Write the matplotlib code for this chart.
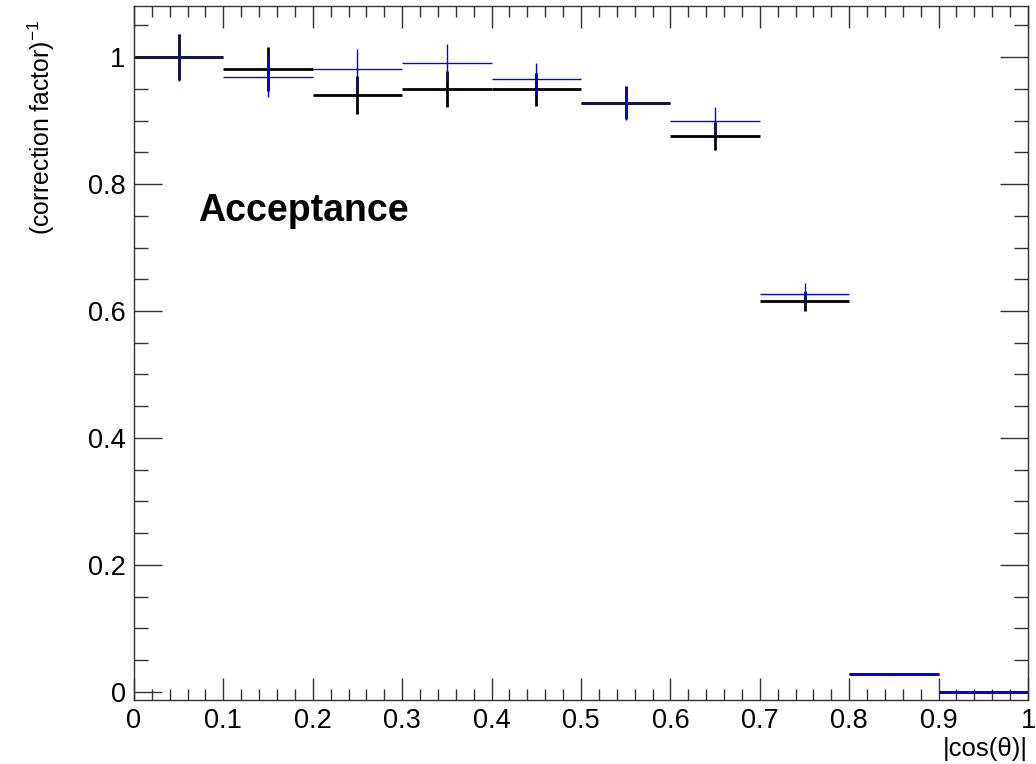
import matplotlib as mpl
mpl.use('Agg')
import matplotlib.pyplot as plt
from matplotlib.ticker import MultipleLocator
import numpy as np

# |cos(theta)| bins and the inverse correction factor in each
bin_edges = np.linspace(0.0, 1.0, 11)
acc_black = [1.0, 0.981, 0.940, 0.950, 0.949, 0.928, 0.875, 0.616, 0.028, 0.0]
err_black = [0.036, 0.034, 0.030, 0.028, 0.026, 0.026, 0.022, 0.016, 0.002, 0.0]
acc_blue = [1.0, 0.969, 0.981, 0.991, 0.965, 0.927, 0.899, 0.626, 0.028, 0.0]
err_blue = [0.037, 0.032, 0.031, 0.029, 0.026, 0.026, 0.022, 0.018, 0.002, 0.0]

plt.rcParams['font.family'] = ['Liberation Sans', 'DejaVu Sans']
plt.rcParams['mathtext.fontset'] = 'custom'
plt.rcParams['mathtext.rm'] = 'Liberation Sans'
plt.rcParams['mathtext.it'] = 'Liberation Sans:italic'

centers = 0.5 * (bin_edges[:-1] + bin_edges[1:])
half_w = 0.5 * np.diff(bin_edges)

fig = plt.figure(figsize=(10.36, 7.64), dpi=100, facecolor='white')
ax = fig.add_axes([0.1293, 0.0838, 0.8630, 0.9083])

ax.errorbar(centers, acc_black, xerr=half_w, yerr=err_black, fmt='none',
            ecolor='black', elinewidth=2.0, capsize=0)
ax.errorbar(centers, acc_blue, xerr=half_w, yerr=err_blue, fmt='none',
            ecolor='#0000ff', elinewidth=1.0, capsize=0)

ax.set_xlim(0, 1)
ax.set_ylim(-0.0126, 1.0803)

ax.xaxis.set_major_locator(MultipleLocator(0.1))
ax.xaxis.set_minor_locator(MultipleLocator(0.02))
ax.yaxis.set_major_locator(MultipleLocator(0.2))
ax.yaxis.set_minor_locator(MultipleLocator(0.05))
ax.xaxis.set_major_formatter(plt.FuncFormatter(lambda v, p: '%g' % round(v, 2)))
ax.yaxis.set_major_formatter(plt.FuncFormatter(lambda v, p: '%g' % round(v, 2)))

ax.tick_params(axis='both', which='both', direction='in', top=True, right=True,
               width=1.0, color='#333333', labelsize=19.5)
ax.tick_params(axis='x', which='major', length=16, pad=6)
ax.tick_params(axis='x', which='minor', length=8)
ax.tick_params(axis='y', which='major', length=20, pad=6)
ax.tick_params(axis='y', which='minor', length=10)
for s in ax.spines.values():
    s.set_linewidth(1.0)
    s.set_color('#333333')

ax.set_ylabel(r'(correction factor)$^{-1}$', fontsize=17.8, loc='top')
ax.yaxis.set_label_coords(-0.086, 0.98)
ax.set_xlabel(r'|cos(θ)|', fontsize=18.5, loc='right', labelpad=2)

ax.text(0.0715, 0.742, 'Acceptance', fontsize=27, fontweight='bold',
        va='baseline', ha='left')

fig.savefig('out.png', dpi=100)
